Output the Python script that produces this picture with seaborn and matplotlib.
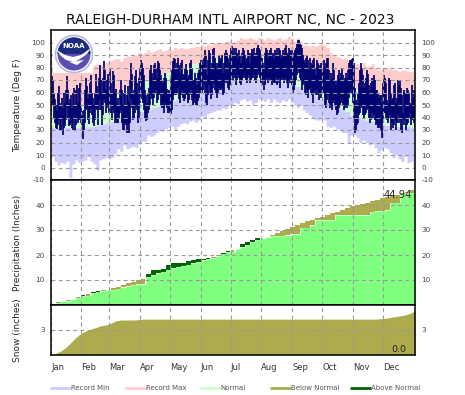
#!/usr/bin/env python3

import numpy as np
import pandas as pd
import matplotlib
matplotlib.use('Agg')
import matplotlib.pyplot as plt
import matplotlib.patches as mpatches
from matplotlib.lines import Line2D
import seaborn as sns

months = ['Jan', 'Feb', 'Mar', 'Apr', 'May', 'Jun', 'Jul', 'Aug', 'Sep', 'Oct', 'Nov', 'Dec']
month_starts = [0, 30, 58, 89, 119, 150, 180, 211, 242, 272, 303, 333]
temp_ticks = [-10, 0, 10, 20, 30, 40, 50, 60, 70, 80, 90, 100]
precip_ticks = [10, 20, 30, 40]
snow_ticks = [3]

# daily observed temperature
obs_hi = [
    60, 73, 70, 60, 55, 50, 46, 60, 65, 52, 50, 56, 48, 60, 52, 62, 73, 62, 52, 55, 58, 48, 60, 64, 50, 62, 66, 52, 64, 68, 50,
    45, 42, 46, 62, 72, 65, 55, 60, 68, 74, 60, 56, 50, 60, 75, 65, 58, 72, 82, 70, 58, 72, 85, 78, 62, 70, 75, 60,
    80, 68, 60, 77, 74, 60, 63, 52, 56, 50, 62, 70, 62, 50, 60, 66, 50, 58, 65, 53, 70, 84, 75, 60, 62, 73, 78, 68, 60, 72, 80,
    86, 84, 80, 74, 62, 58, 52, 60, 64, 78, 82, 76, 72, 82, 84, 80, 72, 85, 84, 78, 74, 70, 68, 72, 76, 72, 63, 60, 62, 62,
    72, 78, 85, 88, 87, 78, 84, 88, 82, 76, 84, 86, 75, 74, 80, 83, 78, 72, 74, 84, 86, 80, 70, 70, 76, 72, 66, 76, 78, 84, 86,
    86, 82, 88, 94, 90, 74, 86, 94, 92, 80, 84, 95, 96, 88, 84, 78, 84, 90, 86, 88, 90, 76, 84, 92, 94, 92, 88, 84, 90, 96,
    97, 92, 96, 90, 96, 92, 88, 94, 90, 84, 92, 96, 94, 90, 86, 88, 94, 92, 84, 92, 95, 94, 96, 90, 92, 96, 98, 96, 94, 90, 88,
    84, 80, 92, 96, 94, 88, 92, 94, 96, 90, 92, 88, 94, 92, 96, 90, 96, 94, 88, 90, 94, 92, 96, 98, 92, 90, 96, 94, 92, 94, 88,
    92, 94, 96, 99, 102, 102, 100, 98, 96, 90, 86, 84, 88, 90, 86, 78, 88, 84, 82, 86, 88, 80, 74, 86, 84, 80, 82, 84, 76, 78,
    86, 80, 84, 88, 88, 78, 70, 76, 72, 84, 78, 70, 66, 70, 74, 78, 72, 76, 80, 74, 70, 72, 76, 72, 78, 84, 86, 86, 87, 88, 84,
    64, 54, 52, 60, 68, 78, 84, 80, 74, 64, 68, 72, 78, 75, 66, 62, 68, 72, 70, 74, 70, 62, 62, 60, 56, 58, 58, 52, 68, 74,
    72, 68, 54, 52, 72, 70, 60, 54, 56, 66, 68, 52, 56, 70, 66, 70, 64, 58, 44, 62, 60, 60, 64, 62, 60, 52, 50, 66, 56, 62, 54,
]
obs_lo = [
    43, 52, 50, 40, 36, 32, 31, 34, 38, 30, 30, 38, 26, 32, 33, 38, 48, 40, 33, 34, 36, 32, 30, 38, 30, 34, 40, 36, 38, 40, 36,
    34, 23, 30, 36, 46, 48, 38, 35, 44, 48, 42, 36, 33, 38, 48, 46, 34, 46, 54, 46, 34, 42, 55, 52, 44, 48, 50, 44,
    50, 44, 38, 46, 44, 36, 38, 36, 36, 40, 44, 46, 36, 30, 30, 36, 34, 28, 34, 28, 36, 54, 48, 38, 40, 44, 50, 46, 36, 40, 52,
    60, 55, 52, 46, 40, 37, 38, 44, 46, 50, 58, 55, 50, 56, 60, 62, 52, 54, 60, 58, 50, 48, 48, 44, 52, 50, 48, 44, 46, 44,
    43, 46, 54, 58, 60, 58, 60, 64, 55, 52, 58, 62, 56, 53, 55, 60, 58, 52, 54, 58, 62, 54, 50, 52, 55, 50, 50, 53, 56, 60, 62,
    60, 62, 66, 60, 52, 50, 58, 66, 60, 55, 58, 64, 68, 62, 60, 56, 60, 64, 62, 62, 64, 58, 60, 68, 70, 68, 64, 62, 66, 70,
    72, 70, 74, 72, 66, 70, 74, 72, 68, 66, 70, 72, 74, 72, 70, 68, 72, 74, 68, 70, 72, 72, 74, 70, 68, 72, 76, 74, 72, 68, 66,
    70, 62, 66, 72, 70, 68, 72, 70, 70, 66, 70, 68, 68, 72, 66, 68, 72, 64, 70, 72, 70, 68, 72, 70, 68, 64, 70, 68, 72, 66, 60,
    62, 66, 70, 74, 78, 76, 72, 70, 62, 66, 68, 60, 58, 62, 56, 62, 64, 60, 58, 52, 60, 62, 58, 62, 58, 54, 60, 56, 62, 60,
    60, 50, 48, 54, 58, 52, 48, 50, 46, 52, 54, 50, 46, 42, 44, 48, 50, 52, 54, 50, 46, 48, 50, 48, 50, 56, 60, 62, 60, 52, 40,
    28, 30, 34, 36, 42, 44, 50, 48, 42, 40, 42, 44, 46, 48, 40, 36, 38, 44, 40, 42, 38, 34, 36, 32, 32, 34, 30, 24, 36, 44,
    44, 40, 38, 36, 40, 42, 30, 36, 32, 34, 38, 30, 36, 42, 36, 38, 30, 28, 40, 34, 38, 30, 34, 36, 40, 44, 34, 38, 40, 36, 32,
]

# records, read every 3 days
rec_max = [
    80, 79, 79, 79, 80, 80, 80, 79, 80, 80, 81,
    81, 82, 80, 82, 83, 82, 81, 84, 85, 86,
    87, 87, 85, 88, 89, 89, 90, 90, 92, 91,
    92, 94, 92, 93, 94, 95, 93, 94, 95, 94,
    96, 95, 96, 95, 95, 96, 96, 97, 97, 98,
    97, 99, 98, 100, 100, 99, 100, 101, 101, 100,
    101, 102, 104, 103, 103, 104, 103, 102, 104, 103,
    102, 104, 103, 102, 103, 104, 102, 103, 105, 103,
    101, 104, 101, 98, 98, 97, 98, 97, 98, 99,
    98, 96, 92, 90, 89, 88, 87, 87, 86, 84,
    83, 83, 81, 84, 81, 81, 83, 80, 78, 79,
    80, 79, 80, 78, 78, 77, 78, 78, 77, 77, 76,
]
rec_min = [
    9, 5, 2, 4, 3, 5, -8, 3, 6, 4, 5,
    6, 9, 5, 3, -2, 6, 7, 8, 7, 8,
    11, 15, 13, 18, 15, 16, 17, 16, 19, 21,
    21, 26, 25, 26, 28, 30, 29, 31, 32, 33,
    30, 33, 35, 36, 35, 37, 38, 36, 38, 41,
    40, 43, 44, 45, 46, 46, 48, 47, 50, 50,
    52, 51, 54, 55, 53, 54, 50, 52, 55, 54,
    53, 55, 52, 55, 53, 52, 54, 53, 55, 52,
    50, 48, 50, 46, 44, 42, 40, 38, 38, 39,
    38, 33, 32, 33, 31, 30, 28, 28, 20, 26,
    26, 24, 20, 22, 20, 18, 19, 16, 12, 14,
    16, 15, 12, 8, 10, 7, 5, 9, 4, 5, 0,
]

# the rest read every 5 days
norm_lo = [
    32, 32, 32, 32, 32, 32, 32, 33, 33, 34, 35, 36,
    37, 38, 40, 41, 42, 43, 45, 46, 48, 49, 51, 52,
    54, 55, 56, 58, 59, 60, 62, 64, 65, 66, 68, 69,
    70, 70, 71, 71, 71, 71, 71, 71, 70, 70, 69, 68,
    67, 65, 63, 61, 59, 57, 55, 53, 51, 49, 47, 45,
    42, 41, 39, 38, 37, 35, 35, 34, 34, 33, 33, 33, 32,
]
norm_hi = [
    50, 50, 49, 49, 50, 50, 51, 52, 53, 54, 56, 57,
    58, 60, 62, 64, 66, 67, 69, 71, 72, 74, 75, 76,
    77, 78, 80, 81, 83, 84, 85, 86, 87, 88, 89, 89,
    89, 90, 90, 90, 90, 90, 90, 90, 89, 89, 88, 87,
    85, 84, 82, 80, 79, 77, 75, 73, 71, 70, 68, 67,
    65, 63, 62, 60, 58, 56, 55, 54, 52, 52, 51, 50, 50,
]
precip_obs = [
    0.8, 0.9, 1.5, 1.6, 2.3, 3.0, 4.1, 3.8, 5.2, 5.7, 5.6, 6.0,
    6.1, 6.6, 7.1, 7.5, 8.1, 8.4, 8.3, 12.3, 14.0, 14.0, 14.6, 16.0,
    16.7, 16.7, 17.0, 17.5, 18.0, 18.3, 18.5, 18.7, 18.8, 19.5, 21.0, 21.5,
    21.3, 22.5, 24.3, 25.2, 26.0, 26.7, 27.0, 27.1, 27.7, 27.7, 27.7, 27.9,
    28.3, 28.3, 31.0, 31.0, 32.0, 34.0, 34.0, 34.0, 34.0, 36.0, 36.0, 36.0,
    36.0, 36.0, 36.0, 36.0, 37.3, 37.6, 37.6, 38.0, 41.0, 41.0, 44.3, 44.7, 44.94,
]
precip_norm = [
    0.7, 1.1, 1.6, 2.1, 2.6, 3.2, 3.7, 4.4, 4.9, 5.4, 5.9, 6.2,
    6.7, 7.4, 8.0, 8.7, 9.3, 10.0, 10.6, 11.3, 12.0, 12.7, 13.4, 14.1,
    14.8, 15.2, 15.7, 16.2, 16.7, 17.2, 17.9, 18.5, 19.2, 19.9, 20.6, 21.3,
    21.9, 22.4, 23.2, 24.2, 25.3, 26.1, 26.7, 27.1, 27.9, 28.8, 29.7, 30.5,
    31.2, 32.0, 32.7, 33.5, 34.2, 34.8, 35.4, 36.0, 36.7, 37.4, 38.1, 38.9,
    39.6, 40.0, 40.5, 41.0, 41.6, 42.2, 42.7, 43.2, 43.7, 44.2, 44.8, 45.4, 46.0,
]
snow_norm = [
    0.2, 0.5, 0.9, 1.5, 2.1, 2.6, 2.9, 3.1, 3.3, 3.5, 3.6, 3.8,
    4.1, 4.2, 4.2, 4.2, 4.2, 4.3, 4.3, 4.3, 4.3, 4.3, 4.3, 4.3,
    4.3, 4.3, 4.3, 4.3, 4.3, 4.3, 4.3, 4.3, 4.3, 4.3, 4.3, 4.3,
    4.3, 4.3, 4.3, 4.3, 4.3, 4.3, 4.3, 4.3, 4.3, 4.3, 4.3, 4.3,
    4.3, 4.3, 4.3, 4.3, 4.3, 4.3, 4.3, 4.3, 4.3, 4.3, 4.3, 4.3,
    4.3, 4.3, 4.3, 4.3, 4.3, 4.35, 4.4, 4.5, 4.6, 4.7, 4.8, 5.0, 5.3,
]
precip_total = '44.94'
snow_total = '0.0'

legend_names = ['Record Min', 'Record Max', 'Normal', 'Below Normal', 'Above Normal']

LAVENDER = '#ccccff'
PINK = '#ffcccc'
PALE_GREEN = '#ccffcc'
GREEN = '#80ff80'
OLIVE = '#aeaa4e'
DARK_GREEN = '#006400'
NAVY = '#000070'
W, H = 465, 395


def daily(values, width):
    # one value per day of the year, plus the closing edge for the steps
    out = np.repeat(np.array(values, dtype=float), width)[:365]
    return np.append(out, out[-1])


def panel(top, bottom):
    left, right = 51, 415
    return fig.add_axes([left / W, 1 - bottom / H, (right - left) / W, (bottom - top) / H])


sns.set_style('white')
plt.rcParams['font.family'] = ['DejaVu Sans']
plt.rcParams['axes.unicode_minus'] = False

fig = plt.figure(figsize=(W / 100, H / 100), dpi=100)
ax_temp = panel(30, 180)
ax_prec = panel(180, 305)
ax_snow = panel(305, 355)
edges = np.arange(366)

# temperature
rmin, rmax = daily(rec_min, 3), daily(rec_max, 3)
nlo, nhi = daily(norm_lo, 5), daily(norm_hi, 5)
ax_temp.fill_between(edges, rmin, nlo, step='post', color=LAVENDER, lw=0)
ax_temp.fill_between(edges, nlo, nhi, step='post', color=PALE_GREEN, lw=0)
ax_temp.fill_between(edges, nhi, rmax, step='post', color=PINK, lw=0)

days = np.arange(365) + 0.5
obs = pd.DataFrame({
    'day': np.concatenate([days, days]),
    'temp': obs_lo + obs_hi,
})
sns.lineplot(data=obs, x='day', y='temp', units='day', estimator=None, color=NAVY,
             lw=1.25, solid_capstyle='butt', legend=False, ax=ax_temp)

# precipitation
pobs, pnorm = daily(precip_obs, 5), daily(precip_norm, 5)
ax_prec.fill_between(edges, 0, np.minimum(pobs, pnorm), step='post', color=GREEN, lw=0)
ax_prec.fill_between(edges, pobs, pnorm, where=pobs < pnorm, step='post', color=OLIVE, lw=0)
ax_prec.fill_between(edges, pnorm, pobs, where=pobs > pnorm, step='post', color=DARK_GREEN, lw=0)

# snow, values are at the end of each 5 day stretch
snow_days = np.arange(5, 370, 5)
ax_snow.fill_between(np.insert(snow_days, 0, 0), 0, [0] + snow_norm, color=OLIVE, lw=0)

limits = [(ax_temp, (-10, 110), temp_ticks), (ax_prec, (0, 50), precip_ticks), (ax_snow, (0, 6), snow_ticks)]
for ax, ylim, yticks in limits:
    ax.set_xlim(0, 365)
    ax.set_ylim(*ylim)
    ax.set_yticks(yticks)
    ax.set_xticks(month_starts)
    ax.set_xlabel('')
    ax.set_ylabel('')
    ax.set_axisbelow(False)
    ax.grid(True, color='#999999', lw=0.8, linestyle=(0, (3.5, 3)))
    ax.tick_params(length=0, labelsize=5.2, labelcolor='#444444', labelleft=True, labelright=True,
                   labelbottom=False, pad=4.5)
    for s in ax.spines.values():
        s.set_color('black')
        s.set_linewidth(1.1)
        s.set_visible(True)
        s.set_zorder(5)

ax_snow.tick_params(axis='x', labelbottom=True, labelsize=6, pad=6, labelcolor='#333333')
ax_snow.set_xticklabels(months, ha='left')

ax_temp.set_ylabel('Temperature (Deg F)', fontsize=6.5)
ax_prec.set_ylabel('Precipitation (Inches)', fontsize=6.5)
ax_snow.set_ylabel('Snow (inches)', fontsize=6.5)
for ax in (ax_temp, ax_prec, ax_snow):
    ax.yaxis.set_label_coords((22 - 51) / 364, 0.5)

fig.text(230 / W, 1 - 20 / H, 'RALEIGH-DURHAM INTL AIRPORT NC, NC - 2023', ha='center', va='center',
         fontsize=10, color='#111111')
ax_prec.text(412 / W, 1 - 195.5 / H, precip_total, transform=fig.transFigure, ha='right', va='center',
             fontsize=7.2, color='#222222', zorder=6)
ax_snow.text(406 / W, 1 - 349 / H, snow_total, transform=fig.transFigure, ha='right', va='center',
             fontsize=6.8, color='#222222', zorder=6)

# legend, each entry sits on its own spot
legend_x = [50, 125, 200, 270, 350]
legend_colors = [LAVENDER, PINK, PALE_GREEN, OLIVE, DARK_GREEN]
for name, lx, col in zip(legend_names, legend_x, legend_colors):
    h = Line2D([0], [0], color=col, lw=2.0, solid_capstyle='butt')
    leg = fig.legend(handles=[h], labels=[name], loc='center left', bbox_to_anchor=(lx / W, 1 - 388 / H),
                     frameon=False, fontsize=5, handlelength=3.0, handletextpad=0, borderpad=0, borderaxespad=0)
    leg.get_texts()[0].set_color('#555555')

# NOAA logo block
ax_logo = fig.add_axes([53 / W, 1 - 73 / H, 40 / W, 41.5 / H], zorder=4)
ax_logo.set_xlim(53, 93)
ax_logo.set_ylim(73, 31.5)
ax_logo.axis('off')
ax_logo.add_patch(mpatches.Rectangle((53, 31.5), 40, 41.5, color='white', lw=0))
ax_logo.add_patch(mpatches.Circle((74, 54), 18.5, facecolor='white', edgecolor='#b8b8d8', lw=1.2))
ax_logo.add_patch(mpatches.Circle((74, 54), 16.5, facecolor='#5a4db4', lw=0))
ax_logo.add_patch(mpatches.Wedge((74, 54), 16.5, 180, 360, facecolor='#1c2a80', lw=0))
gull = [(57, 50), (65, 55), (73, 57), (81, 55), (91, 48), (87, 54), (80, 59), (74, 62), (66, 60), (60, 55)]
ax_logo.add_patch(mpatches.Polygon(gull, closed=True, facecolor='white', lw=0))
tail = [(69, 62), (84, 60), (77, 65)]
ax_logo.add_patch(mpatches.Polygon(tail, closed=True, facecolor='white', lw=0))
ax_logo.text(74, 46.5, 'NOAA', color='white', fontsize=5, fontweight='bold', ha='center', va='center')

fig.savefig('out.png', dpi=100)
